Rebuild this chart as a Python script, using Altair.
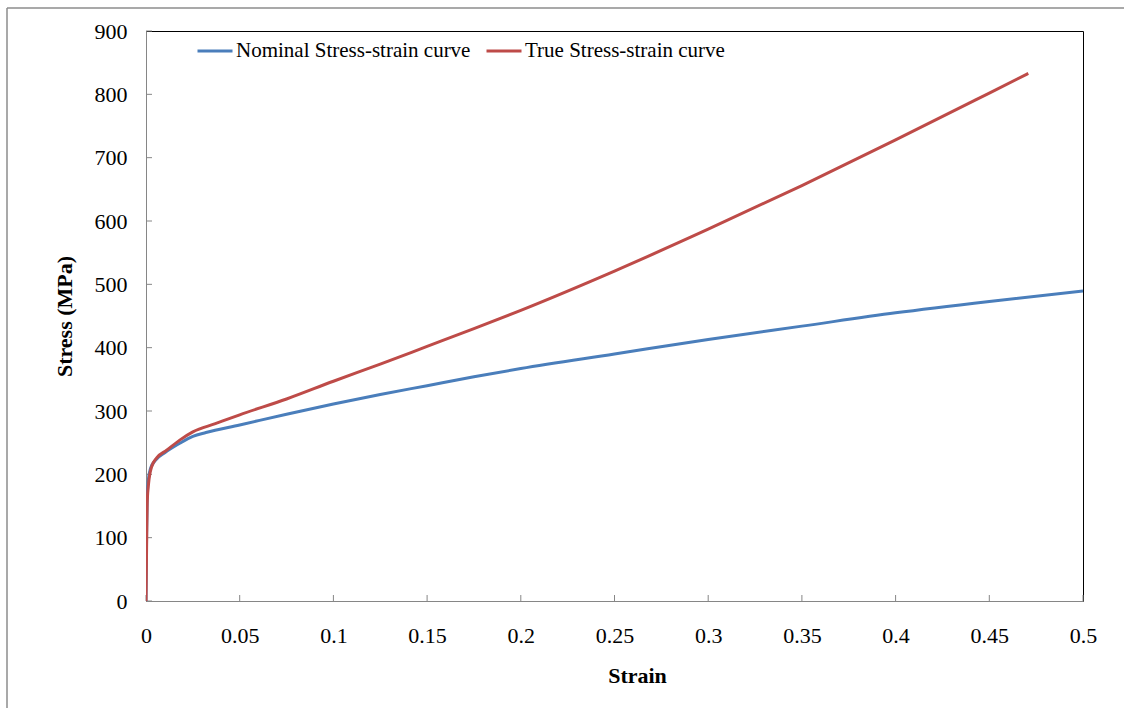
import altair as alt
import pandas as pd

# Engineering (nominal) stress-strain curve
nominal_strain = [0, 0.0003, 0.0006, 0.0012, 0.0025, 0.005, 0.01, 0.018, 0.025, 0.032,
                  0.05, 0.075, 0.1, 0.125, 0.15, 0.175, 0.2, 0.25, 0.3, 0.35,
                  0.4, 0.45, 0.5]
nominal_stress = [0, 100, 160, 190, 210, 222, 234, 249, 260, 266,
                  278, 295, 311, 326, 340, 354, 367, 390, 413, 434,
                  455, 473, 489.5]

# True stress-strain curve
true_strain = [0, 0.0004, 0.0007, 0.0014, 0.003, 0.0057, 0.011, 0.018, 0.025, 0.037,
               0.05, 0.075, 0.1, 0.125, 0.15, 0.175, 0.2, 0.25, 0.3, 0.35,
               0.4, 0.45, 0.4708]
true_stress = [0, 107, 159, 186, 212, 226, 238, 254, 267, 280,
               294, 319, 347, 374, 402, 430, 459, 521, 587, 656,
               728, 802, 833]

NOMINAL = "Nominal Stress-strain curve"
TRUE = "True Stress-strain curve"
curve_names = [NOMINAL, TRUE]
curve_colors = ["#4a7ebb", "#be4b48"]

x_ticks = [0, 0.05, 0.1, 0.15, 0.2, 0.25, 0.3, 0.35, 0.4, 0.45, 0.5]
y_ticks = [0, 100, 200, 300, 400, 500, 600, 700, 800, 900]

FONT = "Liberation Serif"
AXIS_GRAY = "#868686"
W, H = 937, 570

curves = pd.concat([
    pd.DataFrame({"strain": nominal_strain, "stress": nominal_stress, "curve": NOMINAL,
                  "idx": range(len(nominal_strain))}),
    pd.DataFrame({"strain": true_strain, "stress": true_stress, "curve": TRUE,
                  "idx": range(len(true_strain))}),
], ignore_index=True)

x_scale = alt.Scale(domain=[0, 0.5], nice=False, zero=False)
y_scale = alt.Scale(domain=[0, 900], nice=False)

x_axis = alt.Axis(values=x_ticks, format="~g", title="Strain",
                  titleX=491, titleY=81, titleBaseline="alphabetic",
                  titleAlign="center", labelPadding=24, labelFlush=False)
y_axis = alt.Axis(values=y_ticks, title="Stress (MPa)",
                  titleX=-82, titleY=H / 2, titleBaseline="middle",
                  titleAlign="center", titleAngle=-90, labelPadding=19)

x_enc = lambda field: alt.X(field, scale=x_scale, axis=x_axis)
y_enc = lambda field: alt.Y(field, scale=y_scale, axis=y_axis)

lines = alt.Chart(curves).mark_line(strokeWidth=3, clip=True, interpolate="monotone").encode(
    x=x_enc("strain:Q"),
    y=y_enc("stress:Q"),
    color=alt.Color("curve:N",
                    scale=alt.Scale(domain=curve_names, range=curve_colors),
                    legend=alt.Legend(title=None, orient="none", legendX=50, legendY=1,
                                      direction="horizontal", symbolType="stroke",
                                      symbolSize=1225, symbolStrokeWidth=3,
                                      labelFont=FONT, labelFontSize=21,
                                      labelColor="black", labelOffset=2,
                                      labelLimit=0, columnPadding=9)),
    order="idx:Q",
)

# inward-pointing tick marks
x_tick_marks = alt.Chart(pd.DataFrame({"strain": x_ticks})).mark_rule(
    color=AXIS_GRAY, strokeWidth=1).encode(
    x=x_enc("strain:Q"),
    y=alt.value(H - 6), y2=alt.value(H),
)
y_tick_marks = alt.Chart(pd.DataFrame({"stress": y_ticks})).mark_rule(
    color=AXIS_GRAY, strokeWidth=1).encode(
    y=y_enc("stress:Q"),
    x=alt.value(0), x2=alt.value(6),
)

# outer frame of the figure (left and top edges)
frame = pd.DataFrame({"edge": ["left", "top"]})
frame_left = alt.Chart(frame).transform_filter("datum.edge == 'left'").mark_rule(
    color="#8c8c8c", strokeWidth=1.5).encode(
    x=alt.value(-139), y=alt.value(-23), y2=alt.value(H + 120))
frame_top = alt.Chart(frame).transform_filter("datum.edge == 'top'").mark_rule(
    color="#8c8c8c", strokeWidth=1.5).encode(
    x=alt.value(-139), x2=alt.value(W + 60), y=alt.value(-23))

chart = alt.layer(frame_left, frame_top, x_tick_marks, y_tick_marks, lines).properties(
    width=W, height=H,
    padding={"left": 146, "top": 31, "right": 41, "bottom": 107},
    autosize=alt.AutoSizeParams(type="none"),
    background="white",
).configure_view(
    stroke="black", strokeWidth=1,
).configure_axis(
    grid=False, ticks=False,
    domainColor=AXIS_GRAY, domainWidth=1,
    labelFont=FONT, labelFontSize=22, labelColor="black",
    titleFont=FONT, titleFontSize=22, titleFontWeight="bold", titleColor="black",
)

chart.save("out.html", embed_options={"renderer": "svg", "actions": False})
